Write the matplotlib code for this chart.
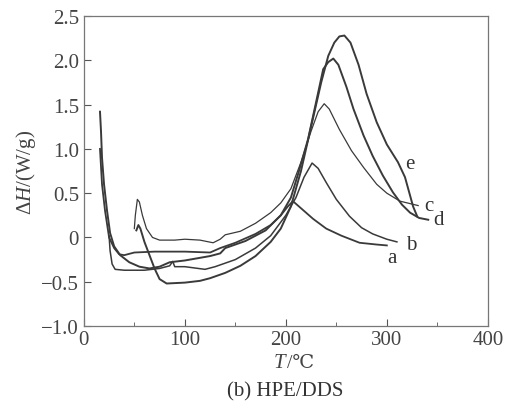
import matplotlib
matplotlib.use("Agg")
import matplotlib.pyplot as plt
from matplotlib.ticker import MultipleLocator, FuncFormatter

plt.rcParams['font.family'] = ['Liberation Serif', 'DejaVu Serif']
plt.rcParams['mathtext.fontset'] = 'custom'
plt.rcParams['mathtext.rm'] = 'Liberation Serif'
plt.rcParams['mathtext.it'] = 'Liberation Serif:italic'

# Curve a
a_T = [16, 18, 21, 25, 30, 35, 40, 50, 70, 100, 125, 135, 150, 170, 185, 195, 202, 207, 215, 227, 240, 255, 273, 290, 300]
a_H = [1.0, 0.6, 0.3, 0.0, -0.12, -0.19, -0.2, -0.17, -0.16, -0.16, -0.17, -0.12, -0.06, 0.04, 0.14, 0.25, 0.35, 0.41, 0.33, 0.21, 0.1, 0.02, -0.06, -0.08, -0.09]
# Curve b
b_T = [25, 26, 28, 31, 40, 60, 75, 85, 88, 90, 100, 120, 130, 150, 170, 185, 200, 210, 218, 226, 232, 240, 250, 263, 275, 286, 300, 310]
b_H = [0.02, -0.15, -0.3, -0.36, -0.37, -0.37, -0.35, -0.32, -0.27, -0.33, -0.33, -0.36, -0.33, -0.25, -0.12, 0.02, 0.25, 0.45, 0.68, 0.84, 0.78, 0.62, 0.43, 0.24, 0.11, 0.04, -0.02, -0.05]
# Curve c
c_T = [50, 51, 53, 55, 58, 62, 68, 75, 90, 100, 115, 128, 135, 140, 155, 170, 185, 195, 205, 215, 225, 232, 238, 243, 253, 265, 277, 290, 300, 313, 331]
c_H = [0.1, 0.25, 0.43, 0.4, 0.25, 0.1, 0.0, -0.03, -0.03, -0.02, -0.03, -0.06, -0.02, 0.03, 0.07, 0.16, 0.28, 0.39, 0.55, 0.85, 1.2, 1.42, 1.51, 1.45, 1.22, 0.98, 0.79, 0.6, 0.5, 0.41, 0.36]
# Curve d
d_T = [16, 17, 18, 20, 23, 26, 30, 36, 45, 55, 65, 75, 85, 100, 125, 135, 140, 160, 180, 195, 205, 213, 222, 230, 237, 242, 247, 252, 260, 267, 277, 286, 296, 306, 315, 323, 332, 341]
d_H = [1.42, 1.2, 0.9, 0.6, 0.3, 0.05, -0.1, -0.2, -0.28, -0.33, -0.35, -0.33, -0.28, -0.26, -0.21, -0.18, -0.12, -0.04, 0.08, 0.25, 0.45, 0.75, 1.11, 1.53, 1.9, 1.98, 2.02, 1.95, 1.7, 1.45, 1.15, 0.92, 0.7, 0.51, 0.37, 0.28, 0.22, 0.2]
# Curve e
e_T = [52, 54, 56, 60, 65, 70, 75, 82, 100, 115, 125, 140, 155, 170, 185, 195, 205, 215, 222, 228, 235, 242, 248, 253, 258, 264, 272, 280, 290, 300, 311, 318, 326, 330]
e_H = [0.08, 0.14, 0.1, -0.05, -0.2, -0.35, -0.47, -0.52, -0.51, -0.49, -0.46, -0.4, -0.32, -0.21, -0.05, 0.1, 0.35, 0.75, 1.1, 1.4, 1.75, 2.05, 2.2, 2.27, 2.28, 2.2, 1.95, 1.62, 1.3, 1.05, 0.85, 0.68, 0.35, 0.24]

labels = ['a', 'b', 'c', 'd', 'e']
label_pos = [(300, -0.23), (319, -0.08), (337, 0.36), (346, 0.2), (318, 0.83)]

fig = plt.figure(figsize=(5.05, 4.10), dpi=100)
ax = fig.add_axes([0.166, 0.2024, 0.800, 0.756])

lc = '#3a3a3a'
series = [(a_T, a_H, 1.3), (b_T, b_H, 1.1), (c_T, c_H, 0.9), (d_T, d_H, 1.4), (e_T, e_H, 1.4)]
for T, H, lw in series:
    ax.plot(T, H, color=lc, lw=lw)

for lab, (x, y) in zip(labels, label_pos):
    ax.text(x, y, lab, fontsize=15, color='#333333', ha='left', va='center')

ax.set_xlim(0, 400)
ax.set_ylim(-1.0, 2.5)
ax.xaxis.set_major_locator(MultipleLocator(100))
ax.xaxis.set_minor_locator(MultipleLocator(50))
ax.yaxis.set_major_locator(MultipleLocator(0.5))

def yfmt(v, pos):
    if abs(v) < 1e-9:
        return '0'
    return ('%.1f' % v).replace('-', '\u2212')

ax.yaxis.set_major_formatter(FuncFormatter(yfmt))
ax.tick_params(which='both', direction='in', colors='#555555', labelcolor='#444444', labelsize=15)
ax.tick_params(which='major', length=5)
ax.tick_params(which='minor', length=3)
ax.tick_params(axis='x', pad=3)
for s in ax.spines.values():
    s.set_color('#777777')
    s.set_linewidth(0.9)

ax.set_ylabel(r'$\Delta\mathit{H}$/(W/g)', fontsize=15, color='#444444', labelpad=2)
# x label: italic T followed by /℃
fig.text(0.565, 0.113, 'T', fontsize=15, style='italic', color='#444444', ha='right', va='center')
fig.text(0.568, 0.113, '/℃', fontsize=14, color='#444444', ha='left', va='center',
         family=['Liberation Serif', 'DejaVu Serif'])
fig.text(0.565, 0.045, '(b) HPE/DDS', fontsize=15, color='#333333', ha='center', va='center')

fig.savefig('out.png', dpi=100)
